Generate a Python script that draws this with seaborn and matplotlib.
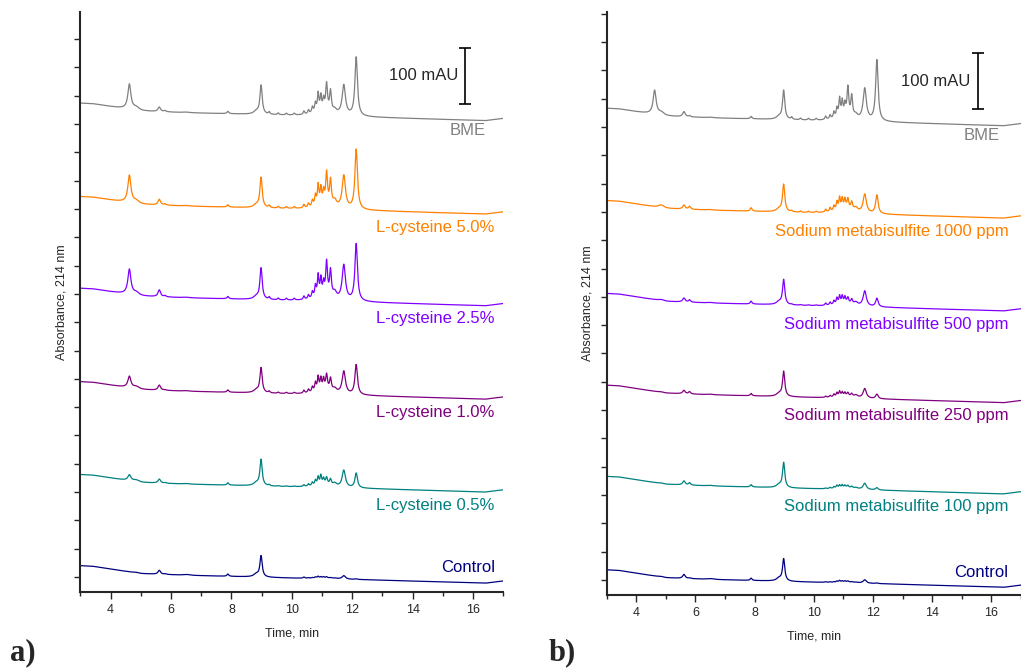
"""
Cromatogramas HPLC (214 nm): BME x L-cisteina (a) e x metabissulfito de sodio (b)
"""

import numpy as np
import pandas as pd
import seaborn as sns
import matplotlib.pyplot as plt

# Tabela de picos (tempo de retencao, min) e meia-largura (min)
peak_rt = [4.62, 4.85, 5.61, 5.80, 6.50, 7.88, 8.82, 8.98, 9.25, 9.55, 9.82, 10.08,
           10.40, 10.55, 10.68, 10.78, 10.87, 10.96, 11.05, 11.15, 11.28, 11.42,
           11.72, 12.13, 11.10]
peak_w = [0.06, 0.12, 0.05, 0.04, 0.12, 0.035, 0.10, 0.045, 0.03, 0.03, 0.03, 0.03,
          0.03, 0.03, 0.03, 0.03, 0.03, 0.03, 0.03, 0.035, 0.035, 0.07,
          0.065, 0.05, 0.35]

# Deriva da linha de base (mAU, relativa a t = 10 min)
drift_t = [3.0, 3.4, 4.0, 5.0, 6.5, 8.0, 10.0, 12.5, 14.5, 16.4, 17.0]
drift_v = [22, 21, 16, 8, 5, 3, 0, -3, -6, -9, -5]

# Painel a) L-cisteina
a_names = ['BME', 'L-cysteine 5.0%', 'L-cysteine 2.5%', 'L-cysteine 1.0%',
           'L-cysteine 0.5%', 'Control']
a_offset = [815, 650, 488, 323, 159, -2]
a_heights = [
    [44, 5, 8, 2, 1, 4, 5, 51, 4, 3, 3, 3, 6, 7, 11, 16, 32, 26, 19, 47, 36, 6, 53, 104, 8],
    [48, 5, 10, 2, 1, 4, 5, 53, 4, 3, 3, 3, 6, 7, 11, 18, 35, 28, 21, 55, 43, 10, 58, 106, 8],
    [44, 5, 12, 2, 1, 4, 5, 55, 4, 3, 3, 3, 6, 7, 11, 20, 37, 30, 21, 59, 45, 10, 62, 101, 8],
    [20, 4, 9, 1, 1, 4, 5, 44, 3, 2, 2, 2, 5, 6, 9, 15, 24, 20, 18, 26, 21, 6, 40, 53, 8],
    [10, 3, 7, 1, 1, 4, 5, 46, 2, 1, 1, 1, 3, 4, 6, 9, 14, 16, 10, 12, 10, 5, 30, 26, 5],
    [0, 1, 7, 1, 1.5, 4, 5, 37, 0, 0, 0, 0, 2, 1, 1, 2, 3, 2, 2, 2, 1, 1, 6, 1, 1.5],
]

# Painel b) metabissulfito de sodio
b_names = ['BME', 'Sodium metabisulfite 1000 ppm', 'Sodium metabisulfite 500 ppm',
           'Sodium metabisulfite 250 ppm', 'Sodium metabisulfite 100 ppm', 'Control']
b_offset = [811, 648, 484, 322, 161, -4]
b_heights = [
    [42, 5, 9, 2, 1, 4, 5, 51, 4, 3, 3, 3, 6, 7, 11, 16, 32, 26, 19, 50, 36, 6, 56, 108, 8],
    [0, 5, 7, 5, 1, 6, 5, 48, 2, 2, 2, 2, 5, 7, 9, 15, 21, 18, 16, 17, 13, 6, 33, 33, 8],
    [0, 2, 7, 4, 1, 5, 5, 44, 1, 1, 1, 1, 4, 5, 7, 11, 14, 13, 11, 10, 8, 5, 27, 15, 5],
    [0, 1, 6, 4, 1, 4, 5, 44, 0, 0, 0, 0, 2, 3, 5, 7, 9, 7, 6, 6, 5, 4, 17, 8, 3.5],
    [0, 1, 7, 4, 1, 4, 5, 44, 0, 0, 0, 0, 1, 2, 3, 5, 5, 5, 4, 4, 3, 2, 11, 4, 3],
    [0, 1, 7, 1, 1.5, 4, 5, 39, 0, 0, 0, 0, 1, 1, 1, 2, 3, 2, 2, 2, 1, 1, 6, 1, 1.5],
]

colors = ['#808080', '#FF8000', '#8000FF', '#800080', '#008080', '#000080']

t = np.linspace(3, 17, 2801)


def trace(offset, heights):
    y = offset + np.interp(t, drift_t, drift_v)
    for rt, w, h in zip(peak_rt, peak_w, heights):
        y = y + h / (1 + ((t - rt) / w) ** 2)
    return y


def montar_df(names, offsets, heights):
    partes = []
    for n, o, h in zip(names, offsets, heights):
        partes.append(pd.DataFrame({'Time': t, 'Abs': trace(o, h), 'Amostra': n}))
    return pd.concat(partes, ignore_index=True)


sns.set_style('ticks')
plt.rcParams['font.family'] = ['Liberation Sans', 'DejaVu Sans']

fig = plt.figure(figsize=(10.21, 6.68), dpi=100)
ax_a = fig.add_axes([0.0788, 0.1138, 0.4141, 0.8683])
ax_b = fig.add_axes([0.5942, 0.1093, 0.4058, 0.8728])

paineis = [
    (ax_a, a_names, a_offset, a_heights, 17.0, 998, 16.72, 15.73, 15.5),
    (ax_b, b_names, b_offset, b_heights, 16.81, 1003, 16.57, 15.54, 15.28),
]

for ax, names, offs, hts, xmax, ymax, lab_x, bar_x, txt_x in paineis:
    df = montar_df(names, offs, hts)
    sns.lineplot(data=df, x='Time', y='Abs', hue='Amostra', palette=colors,
                 hue_order=names, linewidth=0.9, legend=False, ax=ax,
                 estimator=None, sort=False)
    ax.set_xlim(3, xmax)
    ax.set_ylim(-26.5, ymax)
    ax.set_xticks(np.arange(4, 17, 2))
    ax.set_xticks(np.arange(3, 18, 1), minor=True)
    ax.set_yticks(np.arange(0, ymax, 50))
    ax.set_yticklabels([])
    ax.tick_params(axis='x', which='major', length=5, width=1, labelsize=9, pad=4)
    ax.tick_params(axis='x', which='minor', length=3, width=1)
    ax.tick_params(axis='y', length=4, width=1)
    for s in ['top', 'right']:
        ax.spines[s].set_visible(False)
    for s in ['left', 'bottom']:
        ax.spines[s].set_linewidth(1.5)
    ax.set_xlabel('Time, min', fontsize=9, labelpad=8)
    ax.set_ylabel('Absorbance, 214 nm', fontsize=9, labelpad=2)

    # rotulos das amostras
    for n, o, c in zip(names, offs, colors):
        if n == 'Control':
            ty = o + 18
        elif n == 'BME':
            ty = o - 27
        else:
            ty = o - 32
        tx = lab_x - 0.3 if n == 'BME' else lab_x
        ax.text(tx, ty, n, color=c, fontsize=12, ha='right', va='center')

    # barra de escala 100 mAU
    ax.errorbar([bar_x], [offs[0] + 70], yerr=50, color='black', capsize=4,
                elinewidth=1.2, capthick=1.2)
    ax.text(txt_x, offs[0] + 70, '100 mAU', fontsize=12, ha='right', va='center')

fig.text(0.010, 0.012, 'a)', fontsize=22, fontweight='bold', family='Liberation Serif')
fig.text(0.537, 0.012, 'b)', fontsize=22, fontweight='bold', family='Liberation Serif')

plt.savefig('out.png', dpi=100)
